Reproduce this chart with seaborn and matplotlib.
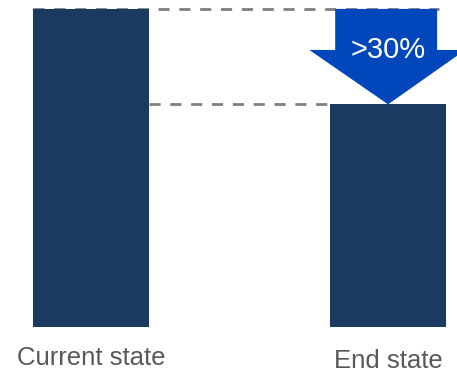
import matplotlib
matplotlib.use("Agg")
import matplotlib.pyplot as plt
from matplotlib.patches import Polygon
import seaborn as sns
import pandas as pd

states = ["Current state", "End state"]
values = [100, 70]
reduction_label = ">30%"

bar_color = "#1B3A5F"
arrow_color = "#0047BB"
dash_color = "#7F7F7F"
text_color = "#595959"

sns.set_theme(style="white")
plt.rcParams["font.family"] = ["Liberation Sans", "DejaVu Sans"]

df = pd.DataFrame({"state": states, "value": values})

fig = plt.figure(figsize=(4.57, 3.72), dpi=100)
ax = fig.add_axes([0, 45 / 372, 1, 327 / 372])

sns.barplot(data=df, x="state", y="value", color=bar_color, width=0.39,
            saturation=1, linewidth=0, ax=ax, zorder=2)

ax.set_xlim(-0.306, 1.232)
ax.set_ylim(0, values[0] * 1.028)
ax.axis("off")

# dashed guide lines
ax.plot([-0.195, 1.17], [values[0], values[0]], ls=(0, (4, 3.5)), lw=2,
        color=dash_color, zorder=1)
ax.plot([0.195, 0.805], [values[1], values[1]], ls=(0, (4, 3.5)), lw=2,
        color=dash_color, zorder=1)

# down arrow showing the reduction
cx = 1.0
top, tip = values[0], values[1]
neck = tip + (top - tip) * 0.57
shaft_l, shaft_r = cx - 0.178, cx + 0.165
head_l, head_r = cx - 0.265, cx + 0.26
arrow = Polygon([(shaft_l, top), (shaft_r, top), (shaft_r, neck), (head_r, neck),
                 (cx, tip), (head_l, neck), (shaft_l, neck)],
                closed=True, facecolor=arrow_color, edgecolor="none", zorder=3)
ax.add_patch(arrow)
ax.text(cx, neck, reduction_label, color="white", fontsize=21,
        ha="center", va="center", zorder=4)

# category labels
ax.text(0, -0.094, states[0], transform=ax.get_xaxis_transform(), ha="center",
        va="center", fontsize=18.5, color=text_color)
ax.text(1, -0.104, states[1], transform=ax.get_xaxis_transform(), ha="center",
        va="center", fontsize=18.5, color=text_color)

fig.savefig("out.png", dpi=100)
